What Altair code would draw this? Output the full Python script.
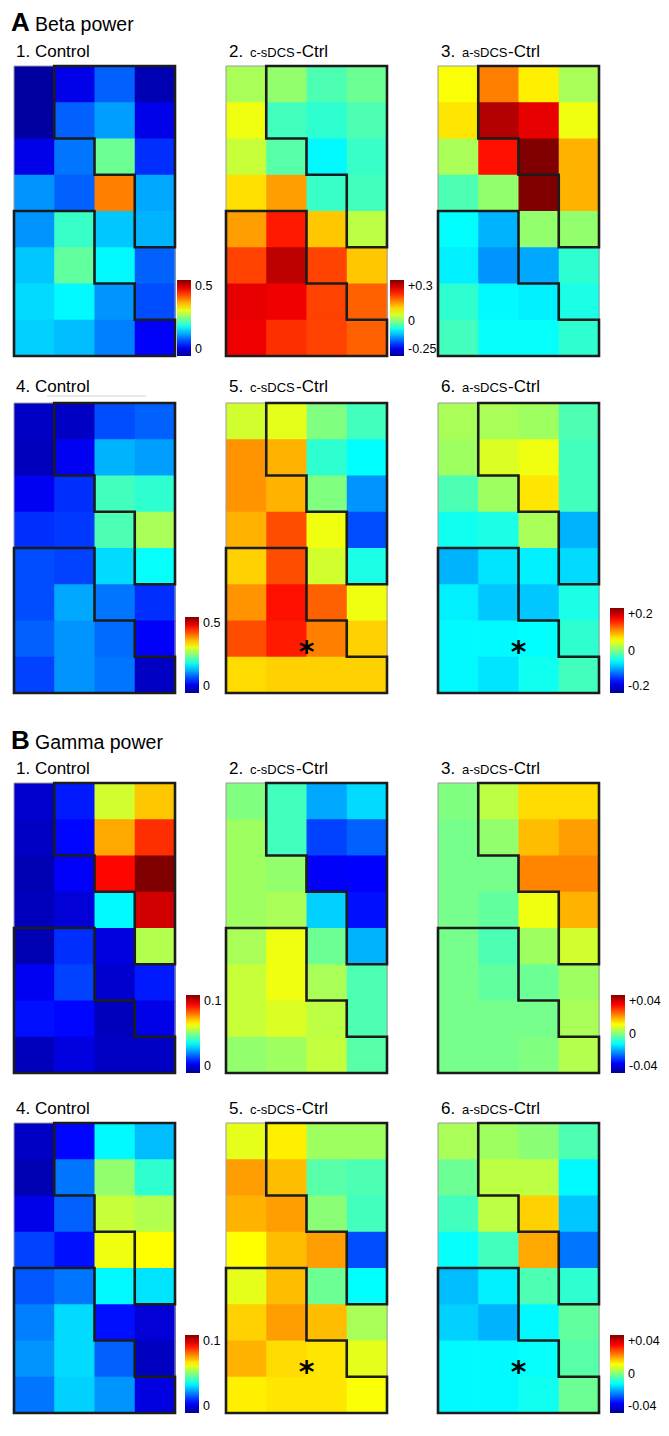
import altair as alt
import pandas as pd

beta_1_control = [
    [0.010, 0.050, 0.110, 0.020],
    [0.010, 0.110, 0.140, 0.050],
    [0.050, 0.120, 0.240, 0.085],
    [0.135, 0.110, 0.375, 0.145],
    [0.135, 0.215, 0.160, 0.150],
    [0.160, 0.235, 0.185, 0.110],
    [0.170, 0.185, 0.135, 0.100],
    [0.165, 0.155, 0.125, 0.060],
]
beta_2_c = [
    [0.024, 0.012, -0.025, -0.010],
    [0.066, -0.030, -0.040, -0.025],
    [0.042, -0.020, -0.065, -0.035],
    [0.093, 0.132, -0.035, -0.030],
    [0.132, 0.210, 0.108, 0.036],
    [0.186, 0.264, 0.186, 0.108],
    [0.240, 0.234, 0.186, 0.168],
    [0.234, 0.198, 0.186, 0.168],
]
beta_3_a = [
    [0.072, 0.150, 0.084, 0.024],
    [0.090, 0.270, 0.240, 0.066],
    [0.024, 0.216, 0.300, 0.120],
    [-0.025, 0.012, 0.300, 0.120],
    [-0.0625, -0.100, 0.012, 0.012],
    [-0.070, -0.115, -0.105, -0.040],
    [-0.040, -0.065, -0.070, -0.050],
    [-0.030, -0.060, -0.060, -0.040],
]
beta_4_control = [
    [0.030, 0.030, 0.100, 0.110],
    [0.025, 0.055, 0.150, 0.140],
    [0.055, 0.085, 0.220, 0.210],
    [0.085, 0.090, 0.225, 0.270],
    [0.100, 0.095, 0.170, 0.190],
    [0.100, 0.145, 0.120, 0.085],
    [0.110, 0.135, 0.115, 0.060],
    [0.095, 0.135, 0.120, 0.030],
]
beta_5_c = [
    [0.032, 0.040, 0.000, -0.024],
    [0.092, 0.080, -0.032, -0.050],
    [0.092, 0.080, 0.000, -0.092],
    [0.080, 0.120, 0.044, -0.120],
    [0.068, 0.120, 0.032, -0.040],
    [0.092, 0.144, 0.112, 0.044],
    [0.120, 0.140, 0.100, 0.068],
    [0.064, 0.068, 0.068, 0.068],
]
beta_6_a = [
    [0.016, 0.016, 0.012, -0.020],
    [0.012, 0.036, 0.044, -0.024],
    [-0.020, 0.012, 0.060, -0.024],
    [-0.044, -0.040, 0.016, -0.080],
    [-0.080, -0.060, -0.056, -0.064],
    [-0.056, -0.072, -0.072, -0.040],
    [-0.052, -0.052, -0.050, -0.032],
    [-0.052, -0.060, -0.044, -0.024],
]
gamma_1_control = [
    [0.007, 0.015, 0.058, 0.068],
    [0.006, 0.013, 0.071, 0.083],
    [0.004, 0.012, 0.087, 0.100],
    [0.005, 0.008, 0.037, 0.092],
    [0.004, 0.017, 0.009, 0.055],
    [0.011, 0.019, 0.007, 0.015],
    [0.014, 0.013, 0.005, 0.010],
    [0.005, 0.009, 0.006, 0.006],
]
gamma_2_c = [
    [0.0000, -0.0048, -0.0168, -0.0128],
    [0.0024, -0.0048, -0.0248, -0.0224],
    [0.0024, 0.0016, -0.0304, -0.0300],
    [0.0024, 0.0032, -0.0136, -0.0288],
    [0.0032, 0.0088, -0.0016, -0.0160],
    [0.0056, 0.0088, 0.0032, -0.0040],
    [0.0056, 0.0072, 0.0048, -0.0040],
    [0.0016, 0.0024, 0.0052, -0.0032],
]
gamma_3_a = [
    [0.0000, 0.0048, 0.0128, 0.0128],
    [-0.0008, 0.0016, 0.0152, 0.0176],
    [-0.0008, -0.0008, 0.0196, 0.0196],
    [-0.0008, -0.0024, 0.0088, 0.0160],
    [-0.0008, -0.0040, 0.0024, 0.0064],
    [-0.0008, -0.0024, -0.0016, 0.0024],
    [-0.0008, -0.0008, -0.0008, 0.0032],
    [-0.0008, -0.0008, 0.0000, 0.0040],
]
gamma_4_control = [
    [0.006, 0.013, 0.037, 0.031],
    [0.004, 0.024, 0.052, 0.042],
    [0.010, 0.022, 0.057, 0.055],
    [0.019, 0.014, 0.061, 0.0625],
    [0.021, 0.024, 0.037, 0.035],
    [0.025, 0.034, 0.014, 0.008],
    [0.027, 0.034, 0.022, 0.0055],
    [0.024, 0.033, 0.027, 0.009],
]
gamma_5_c = [
    [0.0080, 0.0112, 0.0024, 0.0024],
    [0.0176, 0.0152, -0.0032, -0.0040],
    [0.0160, 0.0176, 0.0008, -0.0048],
    [0.0100, 0.0152, 0.0176, -0.0240],
    [0.0080, 0.0152, -0.0016, -0.0100],
    [0.0136, 0.0176, 0.0152, 0.0032],
    [0.0160, 0.0128, 0.0120, 0.0080],
    [0.0112, 0.0120, 0.0120, 0.0096],
]
gamma_6_a = [
    [0.0032, 0.0024, 0.0008, -0.0040],
    [-0.0016, 0.0048, 0.0048, -0.0104],
    [-0.0048, 0.0048, 0.0136, -0.0144],
    [-0.0096, -0.0048, 0.0168, -0.0208],
    [-0.0152, -0.0112, -0.0040, -0.0064],
    [-0.0136, -0.0160, -0.0104, -0.0024],
    [-0.0104, -0.0104, -0.0096, -0.0032],
    [-0.0104, -0.0104, -0.0088, -0.0016],
]

# region outlines (grid-cell corner coordinates, x right, y down)
upper_region = [(1, 0), (4, 0), (4, 5), (3, 5), (3, 3), (2, 3), (2, 2), (1, 2), (1, 0)]
lower_region = [(0, 4), (2, 4), (2, 6), (3, 6), (3, 7), (4, 7), (4, 8), (0, 8), (0, 4)]

# significant cell marker (corner coordinates)
star_position = [(2.0, 6.65)]

section_headers = [("A", "Beta power"), ("B", "Gamma power")]
condition_names = ["Control", "c-sDCS", "a-sDCS"]

# ---------------- style
H = 290
W = 161
ROW_TOP = [58, 39, 82, 42]
FONT = "Liberation Sans"
JET_POS = [0.0, 0.125, 0.375, 0.5, 0.625, 0.875, 1.0]
JET_COLORS = ["#00008f", "#0000ff", "#00ffff", "#80ff80", "#ffff00", "#ff0000", "#800000"]


def jet_domain(lo, hi, mid=None):
    if mid is None:
        return [lo + t * (hi - lo) for t in JET_POS]
    out = []
    for t in JET_POS:
        if t <= 0.5:
            out.append(lo + (mid - lo) * t / 0.5)
        else:
            out.append(mid + (hi - mid) * (t - 0.5) / 0.5)
    return out


outline_df = pd.DataFrame(
    [dict(region="upper", i=i, x=p[0], y=p[1]) for i, p in enumerate(upper_region)]
    + [dict(region="lower", i=i, x=p[0], y=p[1]) for i, p in enumerate(lower_region)]
)
frame_df = pd.DataFrame([dict(x0=0, x1=4, y0=0, y1=8)])
star_df = pd.DataFrame([dict(x=p[0], y=p[1]) for p in star_position])


def panel(vals, lo, hi, mid, num, cond, row, legend=None, header=None, star=False, artifact=False):
    e = ROW_TOP[row]
    ext = e * 8.0 / H
    cells = pd.DataFrame(
        [dict(c0=c, c1=c + 1, r0=r, r1=r + 1, v=vals[r][c]) for r in range(8) for c in range(4)]
    )
    xs = alt.Scale(domain=[0, 4], nice=False, zero=False)
    ys = alt.Scale(domain=[-ext, 8], reverse=True, nice=False, zero=False)
    cs = alt.Scale(domain=jet_domain(lo, hi, mid), range=JET_COLORS, interpolate="rgb",
                   clamp=True, nice=False, zero=False)
    if legend is not None:
        lx, length, values = legend
        if mid is None:
            lexpr = "toString(datum.value)"
        else:
            lexpr = "(datum.value > 0 ? '+' : '') + toString(datum.value)"
        leg = alt.Legend(type="gradient", orient="none", legendX=W + lx, legendY=e + H - length,
                         direction="vertical", gradientLength=length, gradientThickness=14,
                         title=None, values=values, labelExpr=lexpr, labelFontSize=12.5,
                         labelFont=FONT, labelColor="#000", labelOffset=4, padding=0,
                         gradientStrokeWidth=0, labelOverlap=False)
    else:
        leg = None

    X = alt.X("c0:Q", scale=xs, axis=None)
    Y = alt.Y("r0:Q", scale=ys, axis=None)
    rects = alt.Chart(cells).mark_rect(x2Offset=0.7, y2Offset=0.7).encode(
        x=X, x2="c1:Q", y=Y, y2="r1:Q",
        fill=alt.Fill("v:Q", scale=cs, legend=leg),
    )
    frame = alt.Chart(frame_df).mark_rect(fillOpacity=0, stroke="#9a9a9a", strokeWidth=1).encode(
        x=alt.X("x0:Q", scale=xs, axis=None), x2="x1:Q",
        y=alt.Y("y0:Q", scale=ys, axis=None), y2="y1:Q",
    )
    lines = alt.Chart(outline_df).mark_line(color="#1c1c1c", strokeWidth=2.6,
                                            strokeJoin="miter", strokeCap="square").encode(
        x=alt.X("x:Q", scale=xs, axis=None),
        y=alt.Y("y:Q", scale=ys, axis=None),
        detail="region:N", order="i:Q",
    )
    layers = [rects, frame, lines]

    ty = e - (11 if row == 1 else 9)
    if cond == "Control":
        t = alt.Chart(pd.DataFrame({"s": [f"{num}. {cond}"]})).mark_text(
            align="left", baseline="alphabetic", font=FONT, fontSize=17, color="#000"
        ).encode(text="s:N", x=alt.value(2), y=alt.value(ty))
        layers.append(t)
    else:
        parts = [(f"{num}.", 17, 3), (cond, 13, 24), ("-Ctrl", 17, 70)]
        for s, fs, dx in parts:
            t = alt.Chart(pd.DataFrame({"s": [s]})).mark_text(
                align="left", baseline="alphabetic", font=FONT, fontSize=fs, color="#000"
            ).encode(text="s:N", x=alt.value(dx), y=alt.value(ty))
            layers.append(t)

    if header is not None:
        letter, name = header
        hy = 23 if row == 0 else e - 34
        layers.append(alt.Chart(pd.DataFrame({"s": [letter]})).mark_text(
            align="left", baseline="alphabetic", font=FONT, fontSize=26, fontWeight="bold",
            color="#000").encode(text="s:N", x=alt.value(-3), y=alt.value(hy)))
        layers.append(alt.Chart(pd.DataFrame({"s": [name]})).mark_text(
            align="left", baseline="alphabetic", font=FONT, fontSize=19.5,
            color="#000").encode(text="s:N", x=alt.value(21), y=alt.value(hy)))

    if artifact:
        layers.append(alt.Chart(pd.DataFrame({"a": [0]})).mark_rule(
            color="#d4d4d4", strokeWidth=1).encode(
            x=alt.value(33), x2=alt.value(132), y=alt.value(e - 7)))

    if star:
        layers.append(alt.Chart(star_df).mark_text(
            text="*", font="DejaVu Sans", fontSize=30, fontWeight="bold",
            baseline="alphabetic", dy=18, color="#000").encode(
            x=alt.X("x:Q", scale=xs, axis=None), y=alt.Y("y:Q", scale=ys, axis=None)))

    return alt.layer(*layers).properties(width=W, height=H + e)


A, B = section_headers
ctrl, cs_name, as_name = condition_names
charts = [
    panel(beta_1_control, 0, 0.5, None, 1, ctrl, 0, legend=(2, 76, [0, 0.5]), header=A),
    panel(beta_2_c, -0.25, 0.3, 0, 2, cs_name, 0, legend=(3, 76, [-0.25, 0, 0.3])),
    panel(beta_3_a, -0.25, 0.3, 0, 3, as_name, 0),
    panel(beta_4_control, 0, 0.5, None, 4, ctrl, 1, legend=(10, 76, [0, 0.5]), artifact=True),
    panel(beta_5_c, -0.2, 0.2, 0, 5, cs_name, 1, star=True),
    panel(beta_6_a, -0.2, 0.2, 0, 6, as_name, 1, legend=(11, 85, [-0.2, 0, 0.2]), star=True),
    panel(gamma_1_control, 0, 0.1, None, 1, ctrl, 2, legend=(11, 78, [0, 0.1]), header=B),
    panel(gamma_2_c, -0.04, 0.04, 0, 2, cs_name, 2),
    panel(gamma_3_a, -0.04, 0.04, 0, 3, as_name, 2, legend=(12, 78, [-0.04, 0, 0.04])),
    panel(gamma_4_control, 0, 0.1, None, 4, ctrl, 3, legend=(10, 78, [0, 0.1])),
    panel(gamma_5_c, -0.04, 0.04, 0, 5, cs_name, 3, star=True),
    panel(gamma_6_a, -0.04, 0.04, 0, 6, as_name, 3, legend=(11, 78, [-0.04, 0, 0.04]), star=True),
]

chart = alt.concat(*charts, columns=3, spacing={"row": 8, "column": 51}, bounds="flush").resolve_scale(
    x="independent", y="independent", fill="independent"
).resolve_legend(fill="independent").properties(padding=0).configure_view(strokeWidth=0)

chart.save("out.html", embed_options={"renderer": "svg", "actions": False})
